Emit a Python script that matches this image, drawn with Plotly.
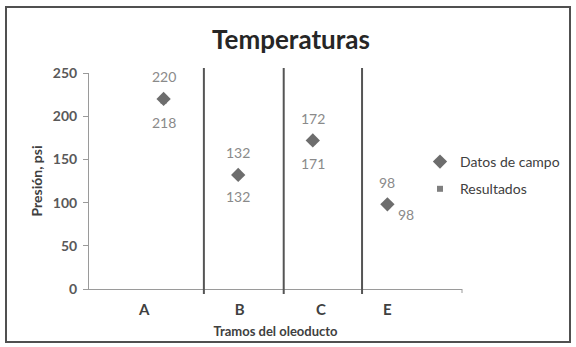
import plotly.graph_objects as go

# ---- data ----
tramos = ["A", "B", "C", "E"]
tramo_pos = [0.74, 2.02, 3.11, 4.0]          # where the category labels sit
punto_x = [1, 2, 3, 4]
datos_campo = [220, 132, 172, 98]
resultados = [218, 132, 171, 98]
separadores = [1.54, 2.61, 3.66]
y_ticks = [0, 50, 100, 150, 200, 250]

W, H = 576, 347
L, R, T, B = 89, 114, 73, 58
PW, PH = W - L - R, H - T - B


def px_x(px):
    return (px - L) / PW


def px_y(py):
    return (H - B - py) / PH


FONT = "Lato"
fig = go.Figure()

fig.add_trace(go.Scatter(
    x=punto_x, y=resultados, mode="markers", name="Resultados",
    marker=dict(symbol="square", size=6, color="#7f7f7f"),
    legendgroup="r", legendrank=2, cliponaxis=False))
fig.add_trace(go.Scatter(
    x=punto_x, y=datos_campo, mode="markers", name="Datos de campo",
    marker=dict(symbol="diamond", size=11, color="#6d6d6d"),
    legendgroup="d", legendrank=1, cliponaxis=False))

# data labels
ann = []
for i, (x, v) in enumerate(zip(punto_x, datos_campo)):
    ann.append(dict(x=x, y=v, text=str(v), showarrow=False, yshift=22,
                    xshift=0, font=dict(family=FONT, size=14, color="#8a8a8a")))
for i, (x, v) in enumerate(zip(punto_x, resultados)):
    last = i == len(resultados) - 1
    ann.append(dict(x=x, y=v, text=str(v), showarrow=False,
                    yshift=-10 if last else -22, xshift=19 if last else 0,
                    font=dict(family=FONT, size=14, color="#8a8a8a")))

shapes = []
for s in separadores:
    shapes.append(dict(type="line", xref="x", yref="paper", x0=s, x1=s,
                       y0=px_y(294), y1=px_y(68),
                       line=dict(color="#555555", width=2)))
# end tick of x axis
shapes.append(dict(type="line", xref="paper", yref="paper", x0=1, x1=1,
                   y0=px_y(289), y1=px_y(293), line=dict(color="#9a9a9a", width=1)))
# outer frame
shapes.append(dict(type="rect", xref="paper", yref="paper",
                   x0=px_x(6), x1=px_x(570), y0=px_y(342), y1=px_y(7),
                   line=dict(color="#505050", width=2), layer="below"))

fig.update_layout(
    width=W, height=H,
    margin=dict(l=L, r=R, t=T, b=B, autoexpand=False),
    paper_bgcolor="white", plot_bgcolor="white",
    title=dict(text="<b>Temperaturas</b>", x=291 / W, xanchor="center",
               y=1 - 40 / H, yanchor="middle",
               font=dict(family=FONT, size=26, color="#262626")),
    xaxis=dict(range=[0, 5], tickvals=tramo_pos, ticktext=tramos,
               ticks="", showgrid=False, zeroline=False, ticklabelstandoff=7,
               showline=True, linecolor="#9a9a9a", linewidth=1,
               tickfont=dict(family=FONT, size=15, color="#404040", weight="bold"),
               title=dict(text="<b>Tramos del oleoducto</b>", standoff=9,
                          font=dict(family=FONT, size=13, color="#404040"))),
    yaxis=dict(range=[0, 250], tickvals=y_ticks, ticks="outside", ticklen=5,
               tickcolor="#9a9a9a", showgrid=False, zeroline=False,
               ticklabelstandoff=3,
               showline=True, linecolor="#9a9a9a", linewidth=1,
               tickfont=dict(family=FONT, size=14, color="#595959", weight="bold"),
               title=dict(text="<b>Presión, psi</b>", standoff=6,
                          font=dict(family=FONT, size=14, color="#404040"))),
    legend=dict(x=px_x(420), y=px_y(146), xanchor="left", yanchor="top",
                traceorder="grouped", tracegroupgap=6,
                font=dict(family=FONT, size=14, color="#404040"),
                bgcolor="rgba(0,0,0,0)"),
    annotations=ann,
    shapes=shapes,
    showlegend=True,
)

fig.write_html("out.html", config={"displayModeBar": False},
               post_script="document.body.style.margin='0';")
